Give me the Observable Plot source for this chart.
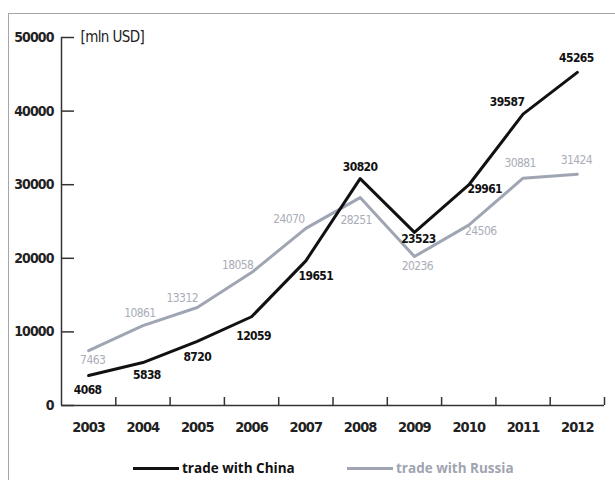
<!DOCTYPE html>
<html><head><meta charset="utf-8">
<script src="https://cdn.jsdelivr.net/npm/d3@7"></script>
<script src="https://cdn.jsdelivr.net/npm/@observablehq/plot@0.6"></script>
<style>
body{margin:0;background:#fff;}
#wrap{position:relative;width:615px;height:480px;overflow:hidden;background:#fff;}
#frame{position:absolute;left:8px;top:13px;width:620px;height:480px;border-left:1.5px solid #a6a6a6;border-top:1.5px solid #a6a6a6;}
#chart{position:absolute;left:0;top:0;}
#chart text{font-stretch:condensed;}
#chart g[aria-label$="tick label"] text{letter-spacing:-0.9px;}
#chart g[aria-label="text"] text{letter-spacing:-0.6px;}
#legend{position:absolute;top:459px;left:133px;height:18px;font:bold 13.5px "Open Sans","Noto Sans",sans-serif;}
.item{position:absolute;top:0;display:flex;align-items:center;white-space:nowrap;}
.sw{display:inline-block;width:46px;height:3px;margin-right:3px;}
</style></head>
<body><div id="wrap"><div id="frame"></div><div id="chart"></div><div id="legend"></div></div>
<script>
const years = [2003,2004,2005,2006,2007,2008,2009,2010,2011,2012];
const china = [4068,5838,8720,12059,19651,30820,23523,29961,39587,45265];
const russia = [7463,10861,13312,18058,24070,28251,20236,24506,30881,31424];
const yTicks = [0,10000,20000,30000,40000,50000];
const seriesNames = ["trade with China","trade with Russia"];
const unitLabel = "[mln USD]";

// label offsets (px)
const chinaDx = [-1,4,0,2,10,0,4,16,-16,-1];
const chinaDy = [15,13,16,19,15,-12,7,4,-12,-14];
const russiaDx = [4,-3,-15,-14,-17,-4,3,12,-3,-1];
const russiaDy = [10,-12,-9,-7,-9,23,10,6,-15,-14];

const black = "#111";
const gray = "#a0a5b3";
const grayText = "#a9adb8";
const numFont = '"DejaVu Sans",sans-serif';

const chinaData = years.map((y,i)=>({year:y, value:china[i]}));
const russiaData = years.map((y,i)=>({year:y, value:russia[i]}));
const bounds = years.map(y=>y+0.5);

const marks = [
  Plot.ruleY([0], {stroke:"#333", strokeWidth:1.5}),
  Plot.ruleX([years[0]-0.5], {y1:0, y2:50000, stroke:"#333", strokeWidth:1.5}),
  Plot.axisY({ticks:yTicks, tickSize:-13, tickFormat:()=>"", label:null, stroke:"#333", strokeWidth:1.5}),
  Plot.axisY({ticks:yTicks, tickSize:0, tickPadding:8, label:null, tickFormat:d=>String(d), fontSize:14, fill:"#222", fontWeight:"bold", fontFamily:numFont}),
  Plot.axisX({ticks:bounds, tickSize:-8, tickFormat:()=>"", label:null, stroke:"#333", strokeWidth:1.5}),
  Plot.axisX({ticks:years, tickSize:0, tickPadding:16, label:null, tickFormat:d=>String(d), fontSize:14.5, fill:"#222", fontWeight:"bold", fontFamily:numFont}),
  Plot.text([unitLabel], {frameAnchor:"top-left", dx:19, dy:0, textAnchor:"start", lineAnchor:"middle", fontSize:15, fill:"#222", fontFamily:numFont, fontWeight:"500"}),
  Plot.line(russiaData, {x:"year", y:"value", stroke:gray, strokeWidth:3}),
  Plot.line(chinaData, {x:"year", y:"value", stroke:black, strokeWidth:3}),
  ...russiaData.map((d,i)=>Plot.text([d], {x:"year", y:"value", text:d=>String(d.value), dx:russiaDx[i], dy:russiaDy[i], fill:grayText, fontSize:12, fontFamily:numFont})),
  ...chinaData.map((d,i)=>Plot.text([d], {x:"year", y:"value", text:d=>String(d.value), dx:chinaDx[i], dy:chinaDy[i], fill:black, fontSize:12, fontWeight:"bold", fontFamily:numFont}))
];

const chart = Plot.plot({
  width:615, height:445,
  marginTop:37, marginBottom:40, marginLeft:61, marginRight:11,
  x:{domain:[years[0]-0.5, years[years.length-1]+0.5], axis:null},
  y:{domain:[0,50000], axis:null},
  style:{background:"transparent", overflow:"visible"},
  marks
});
document.getElementById("chart").appendChild(chart);

const leg = document.getElementById("legend");
const legColors = [black, gray];
const legText = [black, "#a0a4b0"];
const legLeft = [0, 214];
seriesNames.forEach((n,i)=>{
  const it = document.createElement("div");
  it.className="item"; it.style.left = legLeft[i]+"px"; it.style.color = legText[i];
  const sw = document.createElement("span"); sw.className="sw"; sw.style.background=legColors[i];
  it.appendChild(sw); it.appendChild(document.createTextNode(n));
  leg.appendChild(it);
});
</script></body></html>
